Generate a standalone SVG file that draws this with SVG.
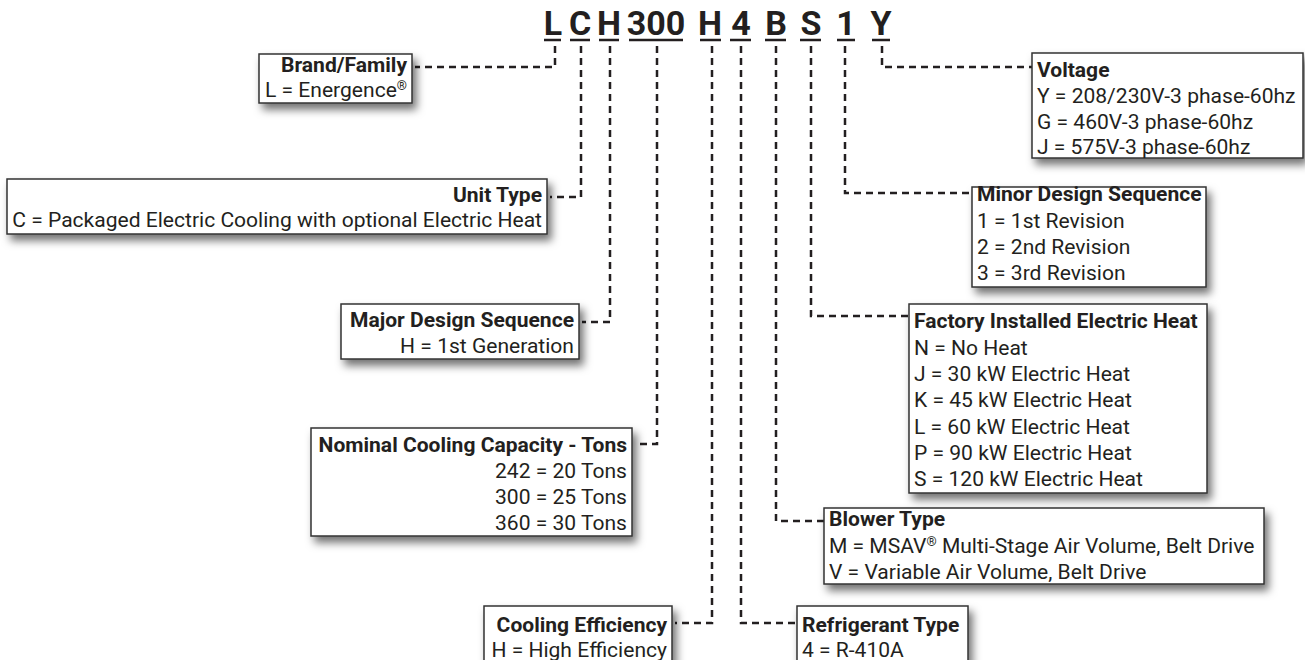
<svg xmlns="http://www.w3.org/2000/svg" width="1305" height="660" viewBox="0 0 1305 660">
<style>
.hdr{font-family:Roboto,"Liberation Sans",sans-serif;font-weight:700;font-size:34px;fill:#231f20;text-anchor:middle}
.ul{stroke:#231f20;stroke-width:2.5}
.box{fill:#fff;stroke:#333;stroke-width:1.5;filter:url(#sh)}
.t{font-family:Roboto,"Liberation Sans",sans-serif;font-size:19.5px;fill:#231f20}
.b{font-weight:700}
.r{text-anchor:end}
.con{fill:none;stroke:#231f20;stroke-width:2.5;stroke-dasharray:7 5}
</style>
<defs>
<filter id="sh" x="-10%" y="-20%" width="130%" height="160%">
<feDropShadow dx="4" dy="6" stdDeviation="4" flood-color="#000" flood-opacity="0.55"/>
</filter>
</defs>
<rect width="1305" height="660" fill="#fff"/>
<g id="header">
<text class="hdr" x="553" y="35">L</text>
<text class="hdr" x="580" y="35">C</text>
<text class="hdr" x="609" y="35">H</text>
<text class="hdr" x="656" y="35">300</text>
<text class="hdr" x="710" y="35">H</text>
<text class="hdr" x="741" y="35">4</text>
<text class="hdr" x="776" y="35">B</text>
<text class="hdr" x="811" y="35">S</text>
<text class="hdr" x="846" y="35">1</text>
<text class="hdr" x="881" y="35">Y</text>
<path class="ul" d="M544,40H561M570,40H590M599,40H619M629,40H683M700,40H721M730,40H751M765,40H786M800,40H821M837,40H855M872,40H890"/>
</g>
<g id="connectors">
<path class="con" d="M555,46V67H415"/>
<path class="con" d="M581,46V197H550"/>
<path class="con" d="M610,46V322H582"/>
<path class="con" d="M657,46V444H635"/>
<path class="con" d="M712,46V623H675"/>
<path class="con" d="M741,46V623H797"/>
<path class="con" d="M776,46V521H824"/>
<path class="con" d="M811,46V316H909"/>
<path class="con" d="M845,46V193H972"/>
<path class="con" d="M882,46V67H1032"/>
</g>
<g id="brand">
<rect class="box" x="259" y="54" width="153" height="49"/>
<g transform="translate(407,0) scale(1.08,1)">
<text class="t b r" x="0" y="72">Brand/Family</text>
<text class="t r" x="0" y="97">L = Energence<tspan font-size="12" dy="-7">®</tspan></text>
</g>
</g>
<g id="unittype">
<rect class="box" x="7" y="179" width="540" height="55"/>
<g transform="translate(542,0) scale(1.08,1)">
<text class="t b r" x="0" y="202">Unit Type</text>
<text class="t r" x="0" y="227">C = Packaged Electric Cooling with optional Electric Heat</text>
</g>
</g>
<g id="major">
<rect class="box" x="341" y="304" width="238" height="55"/>
<g transform="translate(574,0) scale(1.08,1)">
<text class="t b r" x="0" y="327">Major Design Sequence</text>
<text class="t r" x="0" y="353">H = 1st Generation</text>
</g>
</g>
<g id="nominal">
<rect class="box" x="311" y="428" width="321" height="108"/>
<g transform="translate(627,0) scale(1.08,1)">
<text class="t b r" x="0" y="452">Nominal Cooling Capacity - Tons</text>
<text class="t r" x="0" y="478">242 = 20 Tons</text>
<text class="t r" x="0" y="504">300 = 25 Tons</text>
<text class="t r" x="0" y="530">360 = 30 Tons</text>
</g>
</g>
<g id="efficiency">
<rect class="box" x="484" y="606" width="188" height="64"/>
<g transform="translate(667,0) scale(1.08,1)">
<text class="t b r" x="0" y="632">Cooling Efficiency</text>
<text class="t r" x="0" y="657">H = High Efficiency</text>
</g>
</g>
<g id="refrigerant">
<rect class="box" x="797" y="606" width="171" height="64"/>
<g transform="translate(802,0) scale(1.08,1)">
<text class="t b" x="0" y="632">Refrigerant Type</text>
<text class="t" x="0" y="657">4 = R-410A</text>
</g>
</g>
<g id="voltage">
<rect class="box" x="1032" y="53" width="271" height="105"/>
<g transform="translate(1037,0) scale(1.08,1)">
<text class="t b" x="0" y="77">Voltage</text>
<text class="t" x="0" y="103">Y = 208/230V-3 phase-60hz</text>
<text class="t" x="0" y="129">G = 460V-3 phase-60hz</text>
<text class="t" x="0" y="154">J = 575V-3 phase-60hz</text>
</g>
</g>
<g id="minor">
<rect class="box" x="972" y="187" width="234" height="100"/>
<g transform="translate(977,0) scale(1.08,1)">
<text class="t b" x="0" y="201">Minor Design Sequence</text>
<text class="t" x="0" y="228">1 = 1st Revision</text>
<text class="t" x="0" y="254">2 = 2nd Revision</text>
<text class="t" x="0" y="280">3 = 3rd Revision</text>
</g>
</g>
<g id="heat">
<rect class="box" x="909" y="304" width="298" height="189"/>
<g transform="translate(914,0) scale(1.08,1)">
<text class="t b" x="0" y="328">Factory Installed Electric Heat</text>
<text class="t" x="0" y="355">N = No Heat</text>
<text class="t" x="0" y="381">J = 30 kW Electric Heat</text>
<text class="t" x="0" y="407">K = 45 kW Electric Heat</text>
<text class="t" x="0" y="434">L = 60 kW Electric Heat</text>
<text class="t" x="0" y="460">P = 90 kW Electric Heat</text>
<text class="t" x="0" y="486">S = 120 kW Electric Heat</text>
</g>
</g>
<g id="blower">
<rect class="box" x="824" y="508" width="440" height="76"/>
<g transform="translate(829,0) scale(1.08,1)">
<text class="t b" x="0" y="526">Blower Type</text>
<text class="t" x="0" y="553">M = MSAV<tspan font-size="12" dy="-7">®</tspan><tspan dy="7"> Multi-Stage Air Volume, Belt Drive</tspan></text>
<text class="t" x="0" y="579">V = Variable Air Volume, Belt Drive</text>
</g>
</g>
</svg>
